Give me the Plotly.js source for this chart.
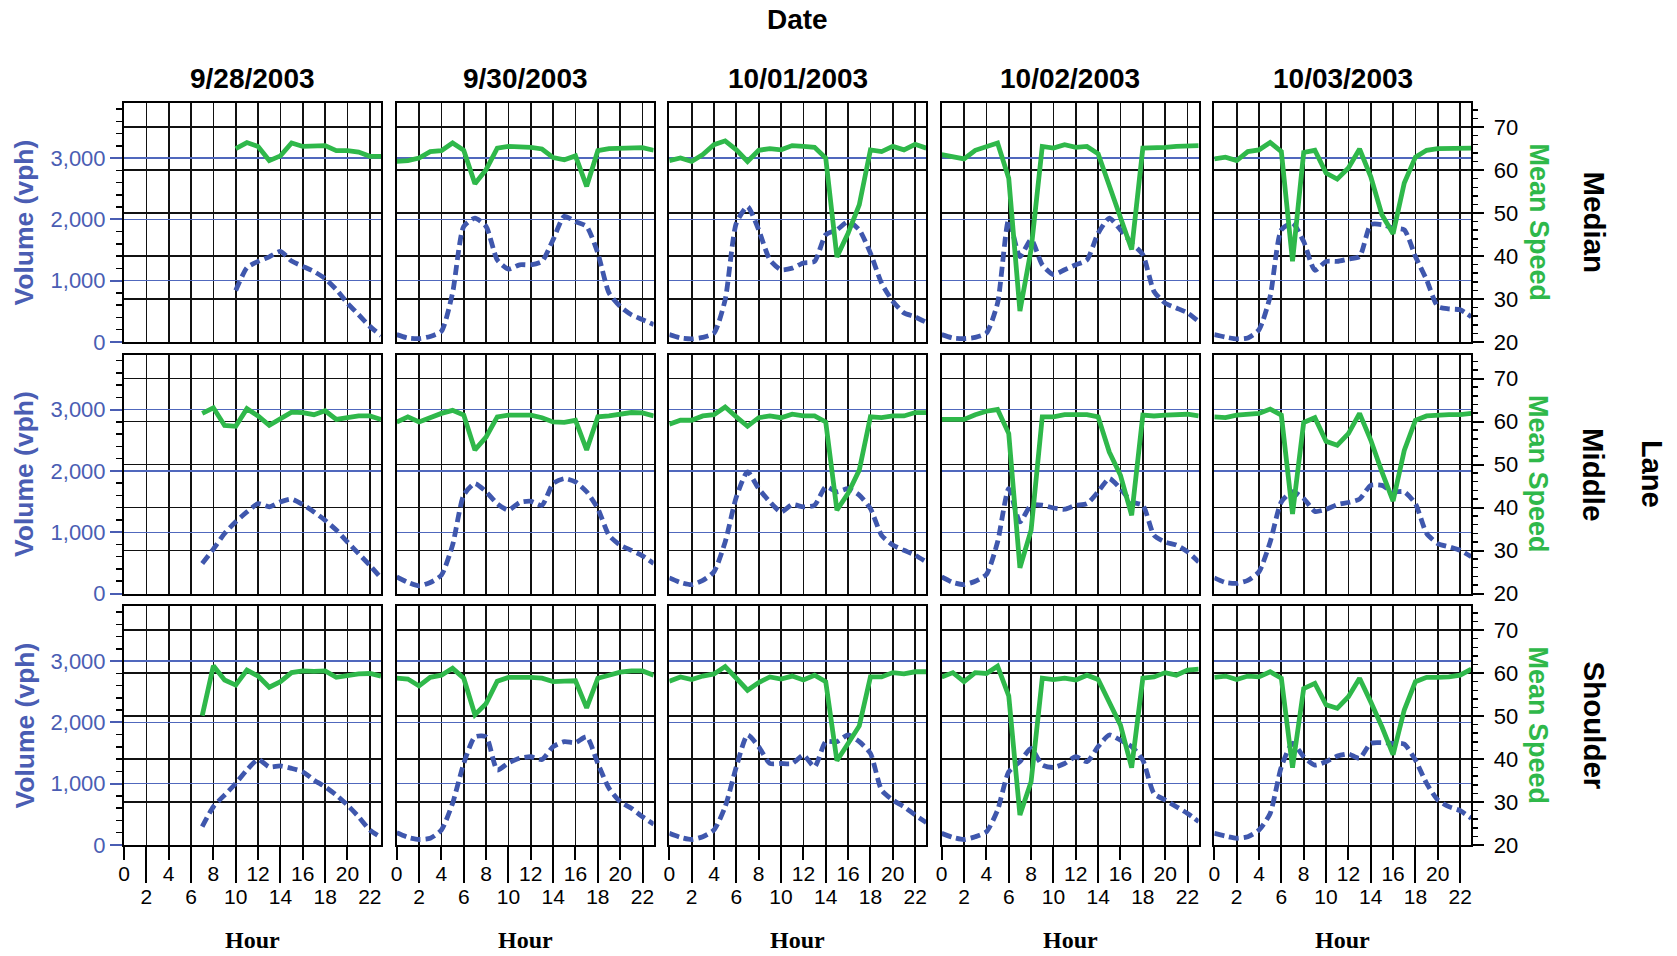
<!DOCTYPE html>
<html>
<head>
<meta charset="utf-8">
<script src="https://cdn.plot.ly/plotly-3.0.1.min.js"></script>
<style>
  html, body { margin: 0; padding: 0; background: #ffffff; }
  #chart { width: 1677px; height: 956px; }
</style>
</head>
<body>
<div id="chart"></div>
<script>
// ---------------- DATA ----------------
const hours = [0, 1, 2, 3, 4, 5, 6, 7, 8, 9, 10, 11, 12, 13, 14, 15, 16, 17, 18, 19, 20, 21, 22, 23];
const dates = ['9/28/2003', '9/30/2003', '10/01/2003', '10/02/2003', '10/03/2003'];
const lanes = ['Median', 'Middle', 'Shoulder'];
const xTickEven = ['0', '4', '8', '12', '16', '20'];
const xTickOdd = ['2', '6', '10', '14', '18', '22'];

// Median lane
const volMedian0928 = [null, null, null, null, null, null, null, null, null, null, 840, 1210, 1315, 1390, 1480, 1320, 1235, 1150, 1035, 855, 635, 445, 255, 105];
const spdMedian0928 = [null, null, null, null, null, null, null, null, null, null, 65.0, 66.4, 65.5, 62.2, 63.3, 66.3, 65.5, 65.7, 65.7, 64.5, 64.5, 64.2, 63.2, 63.2];
const volMedian0930 = [120, 65, 55, 90, 175, 800, 1885, 2020, 1885, 1340, 1190, 1260, 1260, 1315, 1670, 2050, 1965, 1885, 1450, 800, 580, 445, 365, 285];
const spdMedian0930 = [62.0, 62.2, 62.8, 64.3, 64.5, 66.3, 64.6, 56.8, 60.1, 65.1, 65.5, 65.5, 65.3, 64.9, 62.9, 62.4, 63.3, 56.2, 64.5, 65.0, 65.1, 65.2, 65.2, 64.6];
const volMedian1001 = [120, 65, 50, 75, 145, 690, 1940, 2210, 1830, 1340, 1180, 1205, 1290, 1315, 1750, 1830, 1965, 1830, 1450, 960, 665, 475, 410, 320];
const spdMedian1001 = [62.2, 62.8, 62.0, 63.6, 65.9, 66.8, 64.7, 62.0, 64.6, 65.0, 64.7, 65.7, 65.5, 65.3, 62.8, 39.8, 45.3, 51.9, 64.7, 64.3, 65.5, 64.7, 66.0, 65.1];
const volMedian1002 = [120, 65, 55, 75, 145, 635, 1995, 1395, 1670, 1260, 1100, 1180, 1260, 1340, 1775, 2020, 1830, 1615, 1425, 825, 635, 555, 475, 335];
const spdMedian1002 = [63.6, 63.2, 62.6, 64.6, 65.5, 66.3, 58.1, 27.2, 41.5, 65.5, 65.1, 65.9, 65.3, 65.5, 63.8, 56.6, 49.2, 41.5, 65.1, 65.1, 65.3, 65.5, 65.5, 65.7];
const volMedian1003 = [120, 80, 50, 65, 200, 745, 1830, 1940, 1640, 1170, 1315, 1315, 1355, 1395, 1915, 1915, 1860, 1830, 1395, 1015, 580, 540, 525, 410];
const spdMedian1003 = [62.6, 63.0, 62.2, 64.3, 64.7, 66.4, 64.3, 38.8, 64.1, 64.6, 59.3, 57.9, 60.5, 64.9, 58.5, 49.6, 45.2, 57.0, 63.0, 64.6, 65.0, 65.1, 65.1, 65.1];

// Middle lane
const volMiddle0928 = [null, null, null, null, null, null, null, 490, 725, 980, 1170, 1330, 1465, 1415, 1495, 1540, 1450, 1330, 1195, 1035, 840, 650, 460, 255];
const spdMiddle0928 = [null, null, null, null, null, null, null, 61.9, 63.2, 59.1, 58.9, 63.0, 61.3, 59.1, 60.5, 62.2, 62.1, 61.6, 62.5, 60.5, 60.9, 61.3, 61.3, 60.5];
const volMiddle0930 = [270, 180, 125, 180, 300, 790, 1605, 1795, 1660, 1465, 1360, 1485, 1505, 1440, 1795, 1875, 1820, 1660, 1385, 950, 790, 705, 615, 490];
const spdMiddle0930 = [59.9, 61.1, 59.9, 60.9, 61.9, 62.6, 61.5, 53.4, 56.4, 61.1, 61.5, 61.5, 61.5, 60.9, 59.9, 59.8, 60.3, 53.4, 61.1, 61.3, 61.6, 62.1, 62.0, 61.3];
const volMiddle1001 = [255, 180, 145, 215, 355, 840, 1575, 1985, 1710, 1495, 1330, 1450, 1415, 1440, 1740, 1660, 1710, 1605, 1385, 950, 790, 705, 625, 515];
const spdMiddle1001 = [59.4, 60.3, 60.3, 61.3, 61.6, 63.4, 61.1, 58.9, 60.9, 61.3, 60.9, 61.7, 61.3, 61.3, 59.9, 39.4, 43.3, 48.7, 61.1, 60.9, 61.3, 61.3, 62.1, 62.1];
const volMiddle1002 = [270, 180, 145, 200, 310, 840, 1710, 1170, 1440, 1440, 1395, 1375, 1440, 1465, 1660, 1875, 1710, 1495, 1440, 950, 840, 790, 680, 515];
const spdMiddle1002 = [60.5, 60.5, 60.5, 61.6, 62.4, 62.8, 57.2, 26.0, 34.7, 61.1, 61.1, 61.6, 61.5, 61.6, 61.1, 52.9, 47.5, 38.2, 61.5, 61.3, 61.5, 61.6, 61.7, 61.3];
const volMiddle1003 = [255, 180, 165, 215, 355, 840, 1495, 1660, 1550, 1340, 1375, 1450, 1485, 1540, 1765, 1765, 1660, 1660, 1465, 980, 815, 760, 705, 600];
const spdMiddle1003 = [61.1, 60.9, 61.5, 61.7, 61.9, 62.9, 61.5, 38.5, 59.8, 60.9, 55.4, 54.5, 57.2, 61.9, 55.7, 48.3, 41.5, 53.3, 60.3, 61.3, 61.5, 61.6, 61.6, 61.9];

// Shoulder lane
const volShoulder0928 = [null, null, null, null, null, null, null, 300, 625, 815, 1005, 1225, 1395, 1275, 1290, 1250, 1195, 1060, 950, 815, 650, 460, 245, 125];
const spdShoulder0928 = [null, null, null, null, null, null, null, 50.1, 61.7, 58.4, 57.2, 60.7, 59.3, 56.7, 58.0, 60.1, 60.5, 60.4, 60.5, 59.0, 59.5, 59.8, 59.9, 59.3];
const volShoulder0930 = [200, 125, 90, 110, 245, 680, 1330, 1765, 1765, 1225, 1340, 1415, 1440, 1395, 1605, 1685, 1670, 1765, 1330, 925, 705, 600, 460, 340];
const spdShoulder0930 = [58.8, 58.6, 57.0, 59.0, 59.5, 61.1, 58.8, 50.3, 52.9, 58.1, 59.0, 59.1, 59.0, 58.8, 58.0, 58.1, 58.2, 51.9, 58.8, 59.5, 60.2, 60.5, 60.5, 59.5];
const volShoulder1001 = [190, 125, 90, 135, 245, 625, 1275, 1795, 1605, 1330, 1330, 1330, 1465, 1275, 1685, 1685, 1795, 1685, 1495, 895, 735, 625, 490, 365];
const spdShoulder1001 = [58.1, 59.1, 58.5, 59.3, 59.8, 61.5, 58.8, 56.0, 57.8, 59.1, 58.6, 59.3, 58.4, 59.5, 58.0, 39.6, 43.6, 47.7, 59.1, 59.1, 60.1, 59.8, 60.3, 60.3];
const volShoulder1002 = [190, 125, 90, 135, 215, 570, 1195, 1360, 1575, 1305, 1265, 1330, 1440, 1360, 1605, 1795, 1710, 1605, 1385, 840, 735, 625, 515, 380];
const spdShoulder1002 = [59.1, 60.1, 58.0, 60.1, 59.9, 61.6, 54.7, 27.0, 34.7, 58.8, 58.5, 58.8, 58.4, 59.5, 58.5, 53.3, 47.9, 38.0, 58.8, 59.1, 60.1, 59.5, 60.7, 60.9];
const volShoulder1003 = [190, 145, 110, 135, 245, 515, 1275, 1660, 1440, 1305, 1360, 1450, 1485, 1415, 1660, 1670, 1660, 1645, 1385, 1005, 735, 625, 560, 435];
const spdShoulder1003 = [59.0, 59.3, 58.5, 59.3, 59.1, 60.3, 58.8, 38.0, 56.4, 57.6, 52.6, 51.8, 54.5, 58.8, 53.3, 47.5, 41.0, 51.4, 58.0, 59.0, 59.0, 59.1, 59.5, 60.9];

const volumeGrid = [
  [volMedian0928, volMedian0930, volMedian1001, volMedian1002, volMedian1003],
  [volMiddle0928, volMiddle0930, volMiddle1001, volMiddle1002, volMiddle1003],
  [volShoulder0928, volShoulder0930, volShoulder1001, volShoulder1002, volShoulder1003]
];
const speedGrid = [
  [spdMedian0928, spdMedian0930, spdMedian1001, spdMedian1002, spdMedian1003],
  [spdMiddle0928, spdMiddle0930, spdMiddle1001, spdMiddle1002, spdMiddle1003],
  [spdShoulder0928, spdShoulder0930, spdShoulder1001, spdShoulder1002, spdShoulder1003]
];

// ---------------- STYLE / LAYOUT ----------------
const W = 1677, H = 956;
const colLeft = [124, 396.7, 669.3, 941.7, 1214.3];
const colW = 257;
const rowTop = [103, 354.5, 606];
const rowH = 239;
const VOL_RANGE = [0, 3900];
const SPD_RANGE = [20, 75.6];
const BLUE = '#3f57ad';
const BLUE_TXT = '#4a5db3';
const BLUE_GRID = '#5068bd';
const GREEN = '#2fb84a';
const SANS = 'Liberation Sans, Arial, Helvetica, sans-serif';
const SERIF = 'Liberation Serif, Times New Roman, serif';

const px = v => v / W;
const py = v => 1 - v / H;

const traces = [];
const layout = {
  width: W, height: H,
  margin: {l: 0, r: 0, t: 0, b: 0},
  paper_bgcolor: '#ffffff',
  plot_bgcolor: 'rgba(0,0,0,0)',
  showlegend: false,
  annotations: []
};

for (let r = 0; r < 3; r++) {
  for (let c = 0; c < 5; c++) {
    const k = r * 5 + c;
    const xn = k + 1;
    const yv = k + 1;
    const ys = k + 16;
    const xKey = xn === 1 ? 'xaxis' : 'xaxis' + xn;
    const yvKey = yv === 1 ? 'yaxis' : 'yaxis' + yv;
    const ysKey = 'yaxis' + ys;
    const xId = xn === 1 ? 'x' : 'x' + xn;
    const yvId = yv === 1 ? 'y' : 'y' + yv;
    const ysId = 'y' + ys;
    const bottomRow = r === 2;

    layout[xKey] = {
      domain: [px(colLeft[c]), px(colLeft[c] + colW)],
      anchor: yvId,
      range: [0, 23],
      tickmode: 'array',
      tickvals: hours.filter(h => h % 2 === 0),
      ticktext: hours.filter(h => h % 2 === 0).map(h => (h % 4 === 0 ? String(h) : '')),
      showticklabels: bottomRow,
      ticks: bottomRow ? 'outside' : '',
      ticklen: 13, tickwidth: 2, tickcolor: '#000',
      ticklabelstandoff: -4,
      tickfont: {family: SANS, size: 21, color: '#000'},
      showgrid: true, gridcolor: '#111', gridwidth: 1.7,
      zeroline: false,
      showline: true, mirror: true, linecolor: '#000', linewidth: 2,
      fixedrange: true
    };

    const leftCol = c === 0;
    layout[yvKey] = {
      domain: [py(rowTop[r] + rowH), py(rowTop[r])],
      anchor: xId,
      range: VOL_RANGE,
      tickmode: 'linear', tick0: 0, dtick: 1000,
      tickformat: ',d',
      showticklabels: leftCol,
      ticks: leftCol ? 'outside' : '',
      ticklen: 12, tickwidth: 2, tickcolor: BLUE_TXT,
      tickfont: {family: SANS, size: 22, color: BLUE_TXT},
      minor: leftCol ? {dtick: 200, tick0: 0, ticks: 'outside', ticklen: 6, tickwidth: 1.5, tickcolor: '#000', showgrid: false} : {},
      showgrid: true, gridcolor: BLUE_GRID, gridwidth: 1.4,
      zeroline: false,
      showline: true, mirror: true, linecolor: '#000', linewidth: 2,
      fixedrange: true
    };

    const rightCol = c === 4;
    layout[ysKey] = {
      domain: [py(rowTop[r] + rowH), py(rowTop[r])],
      anchor: xId,
      overlaying: yvId,
      side: 'right',
      range: SPD_RANGE,
      tickmode: 'linear', tick0: 0, dtick: 10,
      showticklabels: rightCol,
      ticks: rightCol ? 'outside' : '',
      ticklen: 12, tickwidth: 2, tickcolor: '#000',
      ticklabelstandoff: 5,
      tickfont: {family: SANS, size: 22, color: '#000'},
      minor: rightCol ? {dtick: 2, tick0: 0, ticks: 'outside', ticklen: 6, tickwidth: 1.5, tickcolor: '#000', showgrid: false} : {},
      showgrid: true, gridcolor: '#111', gridwidth: 1.7,
      zeroline: false,
      showline: false,
      fixedrange: true
    };

    traces.push({
      type: 'scatter', mode: 'lines',
      x: hours, y: volumeGrid[r][c],
      xaxis: xId, yaxis: yvId,
      line: {color: BLUE, width: 4.8, dash: '10px,5px', shape: 'spline', smoothing: 0.6},
      connectgaps: false, hoverinfo: 'skip'
    });
    traces.push({
      type: 'scatter', mode: 'lines',
      x: hours, y: speedGrid[r][c],
      xaxis: xId, yaxis: ysId,
      line: {color: GREEN, width: 4.8},
      connectgaps: false, hoverinfo: 'skip'
    });

    if (bottomRow) {
      // second (staggered) row of hour labels with long ticks
      const xo = 16 + c;
      layout['xaxis' + xo] = {
        domain: [px(colLeft[c]), px(colLeft[c] + colW)],
        anchor: yvId,
        overlaying: xId,
        range: [0, 23],
        tickmode: 'array',
        tickvals: xTickOdd.map(Number),
        ticktext: xTickOdd,
        ticks: 'outside', ticklen: 37, tickwidth: 2, tickcolor: '#000',
        ticklabelstandoff: -4,
        tickfont: {family: SANS, size: 21, color: '#000'},
        showgrid: false, zeroline: false, showline: false,
        fixedrange: true
      };
      traces.push({
        type: 'scatter', mode: 'lines', x: [], y: [],
        xaxis: 'x' + xo, yaxis: yvId, hoverinfo: 'skip'
      });
    }
  }
}

// ---------------- TEXT ----------------
const ann = layout.annotations;
const colCenter = c => px(colLeft[c] + colW / 2);
const rowCenter = r => py(rowTop[r] + rowH / 2);
const label = (text, x, y, font, angle) => ({
  text: text, xref: 'paper', yref: 'paper', x: x, y: y,
  xanchor: 'center', yanchor: 'middle',
  textangle: angle || 0, showarrow: false, font: font
});

ann.push(label('<b>Date</b>', px(797), py(19), {family: SANS, size: 28, color: '#000'}));

dates.forEach((d, c) => {
  ann.push(label('<b>' + d + '</b>', colCenter(c), py(78), {family: SANS, size: 28, color: '#000'}));
  ann.push(label('<b>Hour</b>', colCenter(c), py(940), {family: SERIF, size: 24, color: '#000'}));
});

lanes.forEach((ln, r) => {
  ann.push(label('<b>Volume (vph)</b>', px(24), rowCenter(r), {family: SANS, size: 26.5, color: BLUE_TXT}, -90));
  ann.push(label('<b>Mean Speed</b>', px(1538), rowCenter(r), {family: SANS, size: 27, color: GREEN}, 90));
  ann.push(label('<b>' + ln + '</b>', px(1594), rowCenter(r), {family: SANS, size: 29.5, color: '#000'}, 90));
});

ann.push(label('<b>Lane</b>', px(1652), rowCenter(1), {family: SANS, size: 29, color: '#000'}, 90));

Plotly.newPlot('chart', traces, layout, {displayModeBar: false, staticPlot: true});
</script>
</body>
</html>
